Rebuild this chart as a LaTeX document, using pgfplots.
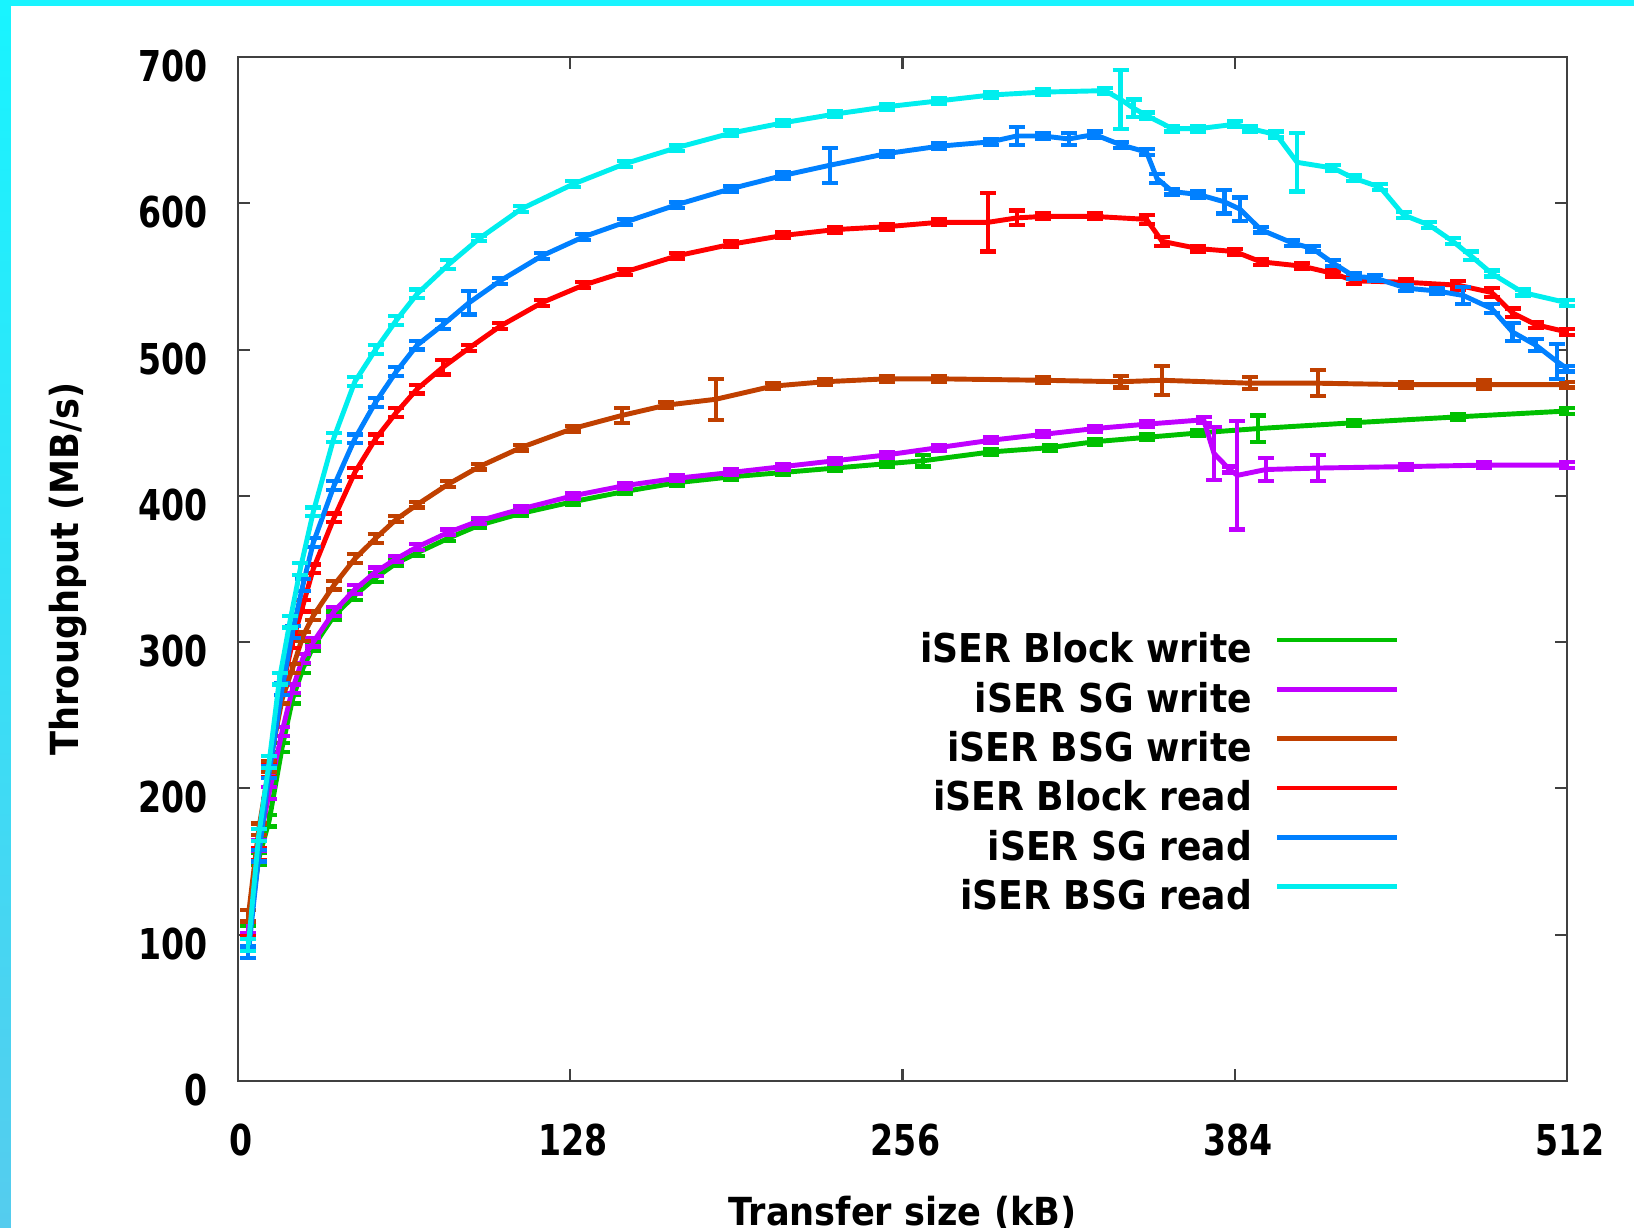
\documentclass[border=0pt]{standalone}
\usepackage{fontspec}
\setmainfont{DejaVu Sans}[FakeStretch=0.91]
\newfontfamily\tickfont{DejaVu Sans}[FakeStretch=0.78]
\usepackage{pgfplots}
\pgfplotsset{compat=1.18}

\definecolor{gpgreen}{HTML}{00C000}
\definecolor{gppurple}{HTML}{C000FF}
\definecolor{gpbrown}{HTML}{C04000}
\definecolor{gpred}{HTML}{FF0000}
\definecolor{gpblue}{HTML}{0080FF}
\definecolor{gpcyan}{HTML}{00EEEE}
\definecolor{edgetop}{HTML}{18F4FF}
\definecolor{edgebot}{HTML}{55CCEE}

\pgfplotsset{
  gperr/.style={no marks, line width=1.4pt, forget plot,
    error bars/.cd, y dir=both, y explicit,
    error bar style={line width=1.2pt, solid},
    error mark options={rotate=90, mark size=0.08cm, line width=1.2pt}},
}

\begin{document}
\begin{tikzpicture}
\useasboundingbox (0,0) rectangle (16.34,12.28);
\shade[top color=edgetop, bottom color=edgebot] (0,0) rectangle (16.34,12.28);
\fill[white] (0.11,0) rectangle (16.34,12.22);
\begin{axis}[
  at={(2.38cm,1.47cm)}, anchor=south west,
  scale only axis, width=13.29cm, height=10.24cm,
  xmin=0, xmax=512, ymin=0, ymax=700,
  clip=false,
  xtick={0,128,256,384,512}, ytick={0,100,...,700},
  tick align=inside, major tick length=0.12cm,
  axis line style={draw=black!75, line width=0.6pt},
  every tick/.style={draw=black!75, line width=0.6pt},
  /pgf/number format/assume math mode=true,
  ticklabel style={font=\tickfont\fontsize{12.1}{14}\selectfont\bfseries},
  xticklabel style={yshift=-0.31cm, xshift=0.03cm},
  yticklabel style={xshift=-0.18cm, yshift=-0.09cm},
  xlabel={Transfer size (kB)},
  ylabel={Throughput (MB/s)},
  label style={font=\fontsize{11}{13}\selectfont\bfseries},
  xlabel style={at={(axis description cs:0.5,-0.112)}, anchor=north, inner sep=0pt},
  ylabel style={at={(axis description cs:-0.128,0.5)}, anchor=center, inner sep=0pt},
  legend plot pos=right,
  legend cell align=right,
  legend image code/.code={\draw[#1] (0cm,0.15cm) -- (1.2cm,0.15cm);},
  legend style={draw=none, fill=none, at={(rel axis cs:0.874,0.4385)},
    anchor=north east, inner sep=0pt, outer sep=0pt,
    column sep=0.23cm, row sep=0.03cm,
    nodes={inner sep=0pt, text height=0.31cm, text depth=0.153cm,
      font=\fontsize{11.3}{13}\selectfont\bfseries}},
]

% iSER Block write
\addplot[gpgreen, gperr] coordinates {
(4,102) +- (0,4) (8,152) +- (0,4) (12,178) +- (0,4) (17,228) +- (0,3)
(21,261) +- (0,3) (25,282) +- (0,3) (29,297) +- (0,3) (37,318) +- (0,3)
(45,332) +- (0,3) (53,344) +- (0,3) (61,354) +- (0,2) (69,361) +- (0,2)
(81,371) +- (0,2) (93,380) +- (0,2) (109,388) +- (0,2) (129,396) +- (0,2)
(149,403) +- (0,2) (169,409) +- (0,2) (190,413) +- (0,2) (210,416) +- (0,2)
(230,419) +- (0,2) (250,422) +- (0,2) (264,424) +- (0,4) (290,430) +- (0,2)
(313,433) +- (0,2) (330,437) +- (0,2) (350,440) +- (0,2) (370,443) +- (0,2)
(393,446) +- (0,9) (430,450) +- (0,2) (470,454) +- (0,2) (512,458) +- (0,2)
};
% iSER SG write
\addplot[gppurple, gperr] coordinates {
(4,105) +- (0,4) (8,161) +- (0,4) (12,197) +- (0,4) (17,239) +- (0,3)
(21,268) +- (0,3) (25,289) +- (0,3) (29,300) +- (0,3) (37,321) +- (0,3)
(45,336) +- (0,3) (53,348) +- (0,3) (61,357) +- (0,2) (69,365) +- (0,2)
(81,375) +- (0,2) (93,383) +- (0,2) (109,391) +- (0,2) (129,400) +- (0,2)
(149,407) +- (0,2) (169,412) +- (0,2) (190,416) +- (0,2) (210,420) +- (0,2)
(230,424) +- (0,2) (250,428) +- (0,2) (270,433) +- (0,2) (290,438) +- (0,2)
(310,442) +- (0,2) (330,446) +- (0,2) (350,449) +- (0,2) (372,452) +- (0,2)
(376,429) +- (0,18) (382,418) +- (0,2) (385,414) +- (0,37) (396,418) +- (0,8)
(416,419) +- (0,9) (450,420) +- (0,2) (480,421) +- (0,2) (512,421) +- (0,2)
};
% iSER BSG write
\addplot[gpbrown, gperr] coordinates {
(4,113) +- (0,4) (8,172) +- (0,4) (12,215) +- (0,4) (17,261) +- (0,3)
(21,282) +- (0,3) (25,304) +- (0,3) (29,318) +- (0,3) (37,339) +- (0,3)
(45,357) +- (0,3) (53,371) +- (0,3) (61,384) +- (0,2) (69,394) +- (0,2)
(81,408) +- (0,2) (93,420) +- (0,2) (109,433) +- (0,2) (129,446) +- (0,2)
(148,455) +- (0,5) (165,462) +- (0,2) (184,466) +- (0,14) (206,475) +- (0,2)
(226,478) +- (0,2) (250,480) +- (0,2) (270,480) +- (0,2) (310,479) +- (0,2)
(340,478) +- (0,4) (356,479) +- (0,10) (390,477) +- (0,4) (416,477) +- (0,9)
(450,476) +- (0,2) (480,476) +- (0,3) (512,476) +- (0,2)
};
% iSER Block read
\addplot[gpred, gperr] coordinates {
(4,95) +- (0,4) (8,155) +- (0,4) (12,212) +- (0,4) (17,268) +- (0,4)
(21,300) +- (0,4) (25,325) +- (0,4) (29,350) +- (0,3) (37,385) +- (0,3)
(45,416) +- (0,3) (53,439) +- (0,3) (61,457) +- (0,3) (69,473) +- (0,3)
(79,488) +- (0,5) (89,501) +- (0,2) (101,516) +- (0,2) (117,532) +- (0,2)
(133,544) +- (0,2) (149,553) +- (0,2) (169,564) +- (0,2) (190,572) +- (0,2)
(210,578) +- (0,2) (230,582) +- (0,2) (250,584) +- (0,2) (270,587) +- (0,2)
(289,587) +- (0,20) (300,590) +- (0,5) (310,591) +- (0,2) (330,591) +- (0,2)
(350,589) +- (0,3) (356,574) +- (0,3) (370,569) +- (0,2) (384,567) +- (0,2)
(394,560) +- (0,2) (410,557) +- (0,2) (422,552) +- (0,2) (430,547) +- (0,2)
(450,546) +- (0,2) (470,544) +- (0,3) (483,539) +- (0,3) (491,525) +- (0,3)
(500,517) +- (0,2) (512,512) +- (0,2)
};
% iSER SG read
\addplot[gpblue, gperr] coordinates {
(4,88) +- (0,4) (8,154) +- (0,4) (12,211) +- (0,4) (17,268) +- (0,4)
(21,307) +- (0,4) (25,339) +- (0,4) (29,368) +- (0,3) (37,407) +- (0,3)
(45,439) +- (0,3) (53,464) +- (0,3) (61,485) +- (0,3) (69,503) +- (0,3)
(79,517) +- (0,3) (89,532) +- (0,8) (101,547) +- (0,2) (117,564) +- (0,2)
(133,577) +- (0,2) (149,587) +- (0,2) (169,599) +- (0,2) (190,610) +- (0,2)
(210,619) +- (0,2) (228,626) +- (0,12) (250,634) +- (0,2) (270,639) +- (0,2)
(290,642) +- (0,2) (300,646) +- (0,6) (310,646) +- (0,2) (320,644) +- (0,4)
(330,647) +- (0,2) (340,640) +- (0,2) (350,635) +- (0,2) (354,617) +- (0,3)
(360,608) +- (0,2) (370,606) +- (0,2) (380,601) +- (0,8) (386,596) +- (0,8)
(394,582) +- (0,2) (406,573) +- (0,2) (414,569) +- (0,2) (422,559) +- (0,2)
(430,550) +- (0,2) (438,549) +- (0,2) (450,542) +- (0,2) (462,540) +- (0,2)
(472,537) +- (0,6) (483,528) +- (0,3) (491,512) +- (0,6) (500,503) +- (0,4)
(508,492) +- (0,12) (512,487) +- (0,2)
};
% iSER BSG read
\addplot[gpcyan, gperr] coordinates {
(4,93) +- (0,4) (8,168) +- (0,4) (12,218) +- (0,4) (16,275) +- (0,4)
(20,314) +- (0,4) (24,350) +- (0,4) (29,389) +- (0,3) (37,440) +- (0,3)
(45,478) +- (0,3) (53,500) +- (0,3) (61,520) +- (0,3) (69,538) +- (0,3)
(81,558) +- (0,3) (93,576) +- (0,2) (109,596) +- (0,2) (129,613) +- (0,2)
(149,627) +- (0,2) (169,638) +- (0,2) (190,648) +- (0,2) (210,655) +- (0,2)
(230,661) +- (0,2) (250,666) +- (0,2) (270,670) +- (0,2) (290,674) +- (0,2)
(310,676) +- (0,2) (334,677) +- (0,2) (340,671) +- (0,20) (345,665) +- (0,6)
(350,660) +- (0,2) (360,651) +- (0,2) (370,651) +- (0,2) (384,654) +- (0,2)
(390,651) +- (0,2) (400,647) +- (0,2) (408,628) +- (0,20) (422,624) +- (0,2)
(430,617) +- (0,2) (440,611) +- (0,2) (449,592) +- (0,2) (459,585) +- (0,2)
(468,574) +- (0,2) (475,564) +- (0,3) (483,552) +- (0,2) (495,539) +- (0,2)
(512,532) +- (0,2)
};

\addlegendimage{gpgreen, line width=1.3pt}
\addlegendentry{iSER Block write}
\addlegendimage{gppurple, line width=1.3pt}
\addlegendentry{iSER SG write}
\addlegendimage{gpbrown, line width=1.3pt}
\addlegendentry{iSER BSG write}
\addlegendimage{gpred, line width=1.3pt}
\addlegendentry{iSER Block read}
\addlegendimage{gpblue, line width=1.3pt}
\addlegendentry{iSER SG read}
\addlegendimage{gpcyan, line width=1.3pt}
\addlegendentry{iSER BSG read}
\end{axis}
\end{tikzpicture}
\end{document}
